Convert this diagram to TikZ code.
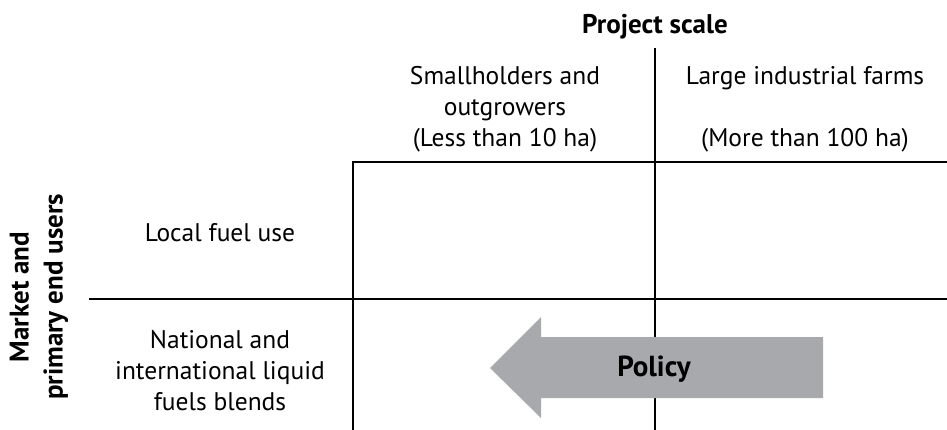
\documentclass[tikz,border=0pt]{standalone}
\usepackage{fontspec}
\setmainfont{PT Sans}
\begin{document}
\begin{tikzpicture}[x=1pt,y=-1pt,
  gridline/.style={line width=2pt,black},
  lbl/.style={align=center,font=\fontsize{25.5}{31}\selectfont,inner sep=0pt},
  head/.style={align=center,font=\fontsize{27}{34}\selectfont\bfseries,inner sep=0pt},
  policyarrow/.style={fill=policygray,draw=none}]
\definecolor{policygray}{HTML}{A7A9AC}
\useasboundingbox (0,0) rectangle (947,430);
% grid corners
\coordinate (vtop) at (655,48);
\coordinate (vbot) at (655,430);
\coordinate (ltop) at (353,162);
\coordinate (lbot) at (353,430);
\coordinate (rtop) at (947,162);
\coordinate (hl) at (89,299);
\coordinate (hr) at (947,299);
\draw[gridline] (vtop) -- (vbot);
\draw[gridline] (rtop) -- (ltop) -- (lbot);
\draw[gridline] (hl) -- (hr);
% policy arrow, laid over the grid lines
\path[policyarrow] (823,337) -- (541,337) -- (541,317) -- (490,368)
  -- (541,418) -- (541,398) -- (823,398) -- cycle;
% headings
\node[head] (scale) at (655,27) {Project scale};
\node[head,rotate=90] (market) at (39,297) {Market and\\primary end users};
% column labels
\node[lbl] (small) at (505,109) {Smallholders and\\outgrowers\\(Less than 10 ha)};
\node[lbl] (large) at (805,109) {Large industrial farms\\[31pt](More than 100 ha)};
% row labels
\node[lbl] (local) at (220,233) {Local fuel use};
\node[lbl] (national) at (220,371) {National and\\international liquid\\fuels blends};
\node[head,font=\fontsize{29}{34}\selectfont\bfseries] (policy) at (654,369) {Policy};
\end{tikzpicture}
\end{document}
